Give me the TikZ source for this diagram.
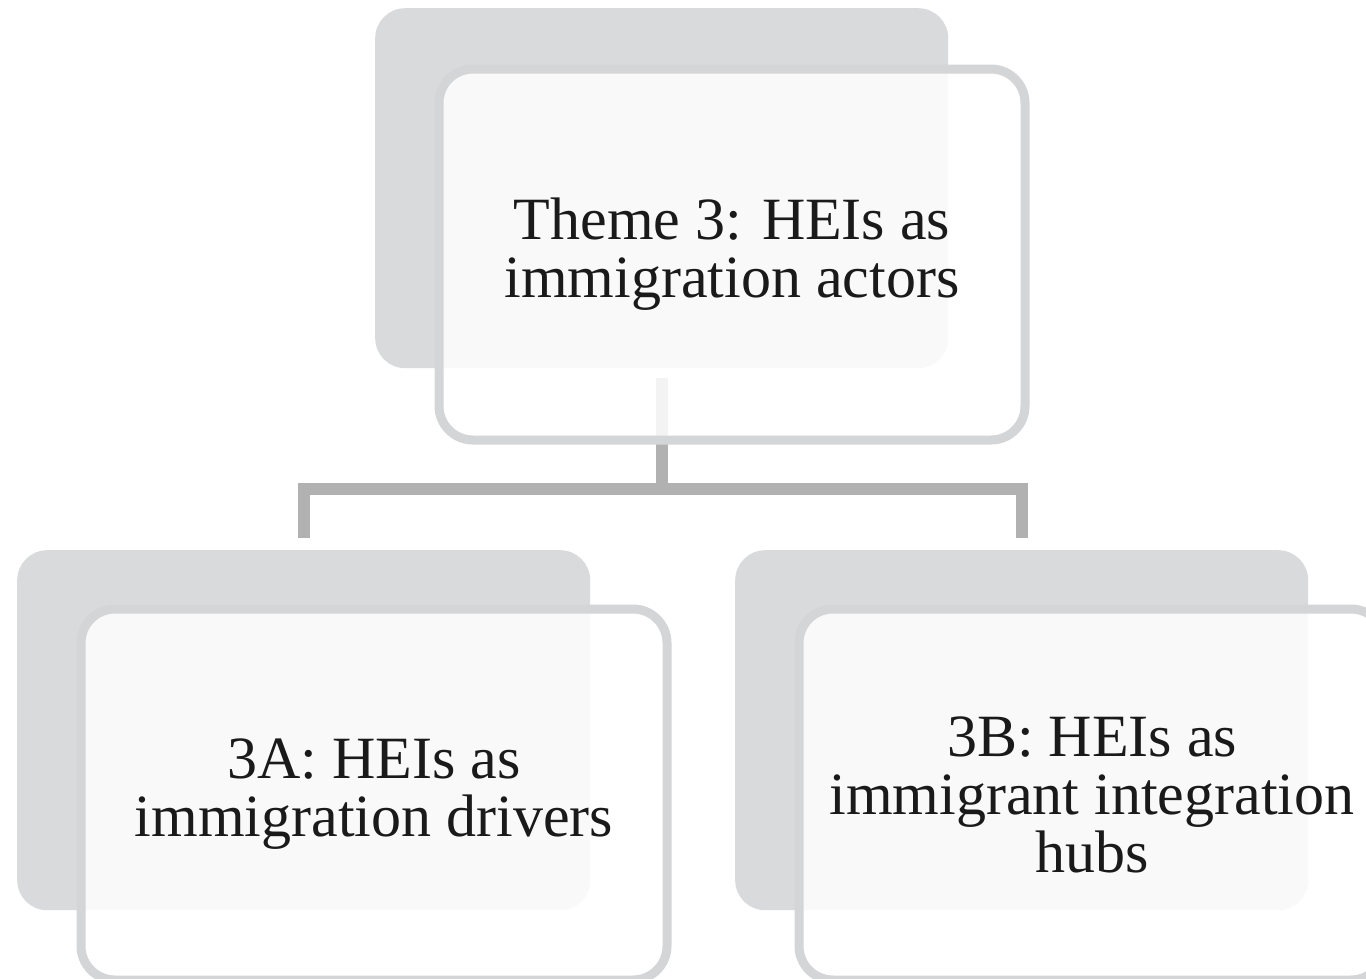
\documentclass[tikz,border=0pt]{standalone}
\usepackage{fontspec}
\setmainfont{Liberation Serif}
\definecolor{shadowgray}{HTML}{D9DADC}
\definecolor{bordergray}{HTML}{D4D5D7}
\definecolor{linkgray}{HTML}{B1B1B1}
\definecolor{textblack}{HTML}{1A1A1A}
\begin{document}
\begin{tikzpicture}[x=1pt,y=-1pt,
  back/.style={rectangle, rounded corners=30pt, fill=shadowgray, draw=none,
    minimum width=573pt, minimum height=360pt, anchor=north west, inner sep=0pt},
  front/.style={rectangle, rounded corners=34pt, fill=white, fill opacity=0.85,
    text opacity=1, draw=bordergray, line width=9pt, minimum width=586pt,
    minimum height=371pt, anchor=north west, inner sep=0pt, align=center,
    text=textblack, font=\fontsize{60}{58}\selectfont},
  link/.style={draw=linkgray, line width=12pt}]
\clip (0,0) rectangle (1366,978);
\fill[white] (0,0) rectangle (1366,978);
% shadow boxes
\node[back] (s0) at (375,8) {};
\node[back] (sA) at (17,550) {};
\node[back] (sB) at (735,550) {};
% connectors
\coordinate (bar) at (0,489);
\draw[link] ([yshift=-10pt]s0.south) -- (s0.south |- bar);
\draw[link] ([yshift=12pt]sA.north) -- (sA.north |- bar) -- (sB.north |- bar) -- ([yshift=12pt]sB.north);
% front boxes
\node[front] (f0) at (434.5,64.5) {Theme 3: HEIs as\\immigration actors};
\node[front] (fA) at (76.5,604.5) {3A: HEIs as\\immigration drivers};
\node[front] (fB) at (794.5,604.5) {3B: HEIs as\\immigrant integration\\hubs};
\end{tikzpicture}
\end{document}
